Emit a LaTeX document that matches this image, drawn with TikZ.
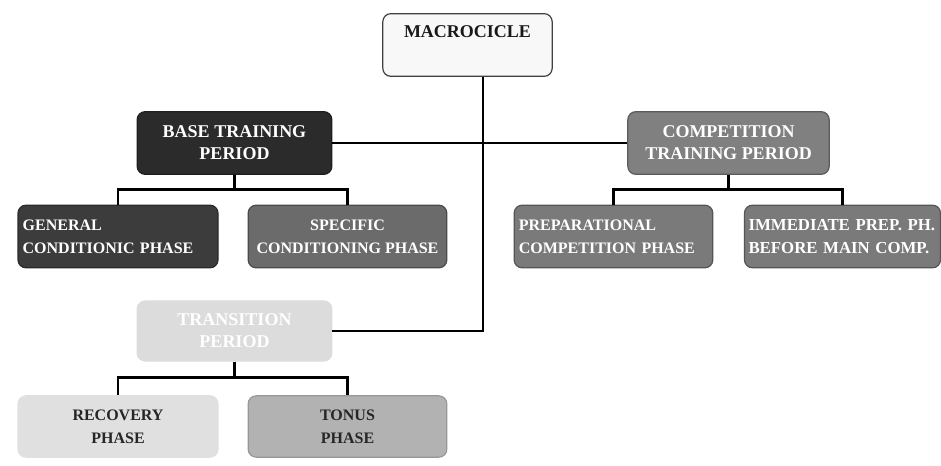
\documentclass[tikz,border=0pt]{standalone}
\usepackage{fontspec}
\setmainfont{Liberation Serif}
\usetikzlibrary{positioning}

\tikzset{
    box/.style = {draw=#1!70!black, fill=#1, rounded corners=6pt, line width=0.9pt,
        text=white, font=\bfseries\fontsize{12}{17.5}\selectfont, align=center,
        minimum width=146pt, minimum height=47pt, inner sep=3pt},
    bigbox/.style = {box=#1, font=\bfseries\fontsize{13.5}{16.5}\selectfont},
    conn/.style = {line width=2.2pt, black}
}

\begin{document}
\begin{tikzpicture}[x=0.75pt, y=-0.75pt]
\useasboundingbox (0,0) rectangle (941,466);

\definecolor{topfill}{HTML}{F8F8F8}
\definecolor{basefill}{HTML}{2B2B2B}
\definecolor{genfill}{HTML}{3C3C3C}
\definecolor{specfill}{HTML}{6B6B6B}
\definecolor{compfill}{HTML}{808080}
\definecolor{prepfill}{HTML}{7A7A7A}
\definecolor{transfill}{HTML}{DCDCDC}
\definecolor{recfill}{HTML}{E0E0E0}
\definecolor{tonfill}{HTML}{B2B2B2}

% top
\node[bigbox=topfill, draw=black!75, text=black!90, minimum width=127pt,
      text height=12pt, text depth=23pt, inner ysep=6pt] (macro) at (467.5,45) {MACROCICLE};

% periods
\node[bigbox=basefill] (base) at (234.5,143) {BASE TRAINING\\PERIOD};
\node[bigbox=compfill, minimum width=151pt] (comp) at (728.5,143) {COMPETITION\\TRAINING PERIOD};
\node[bigbox=transfill, draw=transfill, minimum height=45pt] (trans) at (234.5,331) {TRANSITION\\PERIOD};

% phases
\node[box=genfill, minimum width=150pt, align=left, text width=143pt] (gen) at (118,236.5) {GENERAL\\CONDITIONIC PHASE};
\node[box=specfill, minimum width=149pt] (spec) at (347.5,236.5) {SPECIFIC\\CONDITIONING PHASE};
\node[box=prepfill, minimum width=149pt, align=left, text width=142pt] (prep) at (613.5,236.5) {PREPARATIONAL\\COMPETITION PHASE};
\node[box=prepfill, minimum width=147pt, align=left, text width=141pt,
      font=\bfseries\fontsize{12.6}{17.5}\selectfont] (imm) at (842.5,236.5) {IMMEDIATE PREP. PH.\\BEFORE MAIN COMP.};
\node[box=recfill, draw=recfill, text=black!85, minimum width=150pt, minimum height=46pt] (rec) at (118,426.5) {RECOVERY\\PHASE};
\node[box=tonfill, draw=tonfill!85!black, text=black!85, minimum width=149pt, minimum height=46pt] (ton) at (347.5,426.5) {TONUS\\PHASE};

\coordinate (turn) at (483,331);

% connectors
\draw[conn] (macro.south -| turn) -- (turn) -- (trans.east);
\draw[conn] (base.east) -- (comp.west);
\draw[conn] (base.south) -- ++(0,15);
\draw[conn] (gen.north) -- ++(0,-15) -| (spec.north);
\draw[conn] (comp.south) -- ++(0,15);
\draw[conn] (prep.north) -- ++(0,-15) -| (imm.north);
\draw[conn] (trans.south) -- ++(0,17);
\draw[conn] (rec.north) -- ++(0,-18) -| (ton.north);
\end{tikzpicture}
\end{document}
